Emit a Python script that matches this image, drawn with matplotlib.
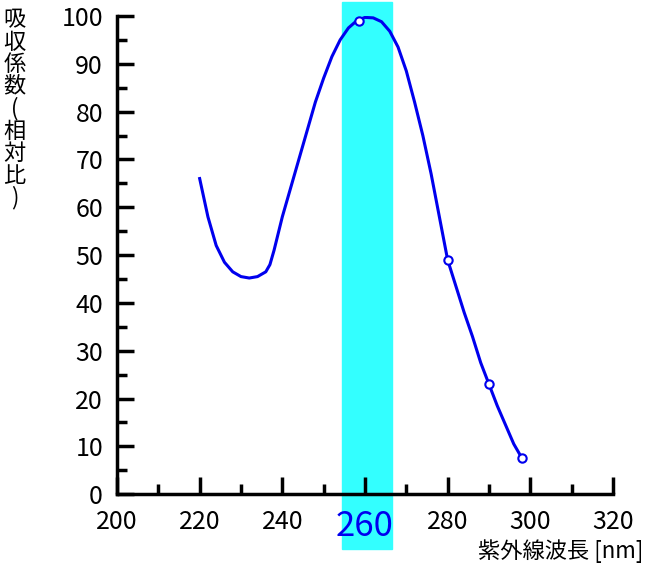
import numpy as np
import matplotlib.pyplot as plt

plt.rcParams['font.family'] = ['Noto Sans CJK JP', 'DejaVu Sans']

# curve
wave = [220, 222, 224, 226, 228, 230, 232, 234, 236, 237, 238, 240, 242, 244, 246, 248,
        250, 252, 254, 256, 258, 260, 262, 264, 266, 268, 270, 272, 274, 276, 278, 280,
        282, 284, 286, 288, 290, 292, 294, 296, 298]
absorb = [66, 58, 52, 48.5, 46.5, 45.5, 45.2, 45.5, 46.5, 48, 51, 58, 64, 70, 76, 82,
          87, 91.5, 95, 97.5, 99, 99.7, 99.6, 98.8, 96.8, 93.5, 88.5, 82, 75, 67, 58, 49,
          43.5, 38, 33, 27.5, 23, 18.5, 14.5, 10.5, 7.5]
mark_x = [258.6, 280, 290, 298]
mark_y = [99, 49, 23, 7.5]
band = (254.4, 266.5)

fig = plt.figure(figsize=(6.5, 5.7), dpi=100)
ax = fig.add_axes([0.18, 0.133, 0.763, 0.839])

ax.axvspan(band[0], band[1], ymin=-0.115, ymax=1.03, color='#33ffff', clip_on=False, zorder=0)
ax.plot(wave, absorb, color='#0000ee', lw=2.2, zorder=3)
ax.plot(mark_x, mark_y, 'o', ms=6, mfc='white', mec='#0000ee', mew=1.5, zorder=4)

ax.set_xlim(200, 320)
ax.set_ylim(0, 100)
for s in ['top', 'right']:
    ax.spines[s].set_visible(False)
for s in ['left', 'bottom']:
    ax.spines[s].set_linewidth(2.5)

ax.set_xticks(np.arange(200, 321, 20))
ax.set_xticks(np.arange(210, 320, 20), minor=True)
ax.set_yticks(np.arange(0, 101, 10))
ax.set_yticks(np.arange(5, 100, 10), minor=True)
ax.tick_params(which='major', direction='in', length=12, width=2.5, labelsize=18)
ax.tick_params(which='minor', direction='in', length=7, width=2.5)
ax.tick_params(axis='x', pad=11)
ax.tick_params(axis='y', pad=10)
for t in ax.get_xticklabels():
    if t.get_text() == '260':
        t.set_color('#0000ee')
        t.set_fontsize(25)

fig.text(0.99, 0.012, '紫外線波長 [nm]', ha='right', va='bottom', fontsize=16)
fig.text(0.022, 0.985, '吸\n収\n係\n数\n(\n相\n対\n比\n)', ha='center', va='top',
         fontsize=16, linespacing=0.95)

fig.savefig('out.png', dpi=100)
